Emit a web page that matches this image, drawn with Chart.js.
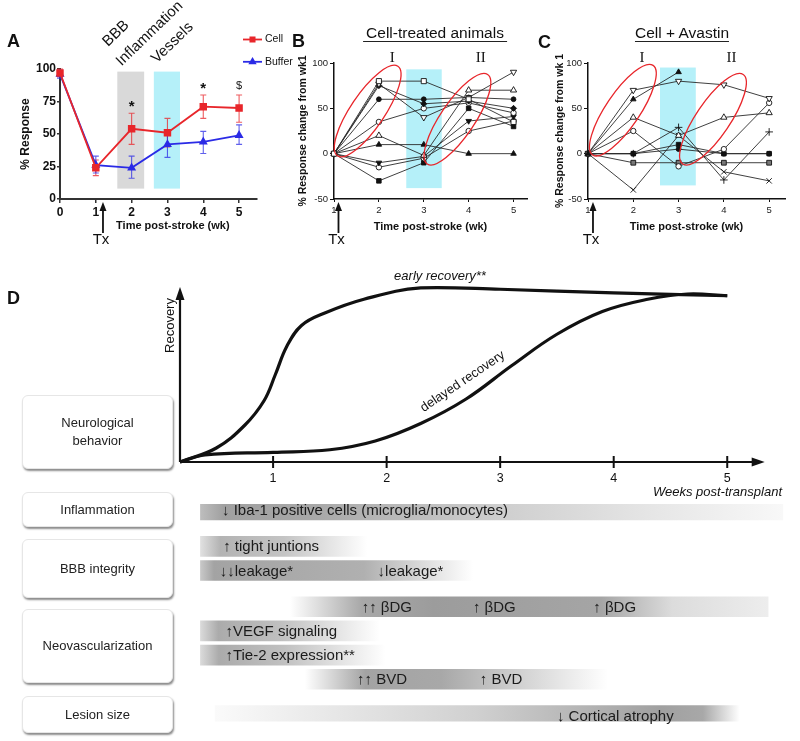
<!DOCTYPE html>
<html>
<head>
<meta charset="utf-8">
<script src="https://cdn.jsdelivr.net/npm/chart.js@4.4.1/dist/chart.umd.min.js"></script>
<style>
  body { margin: 0; background: #fff; font-family: "Liberation Sans", Arial, sans-serif; }
  #fig { position: relative; width: 800px; height: 741px; overflow: hidden; }
  #fig canvas { position: absolute; }
  .lbl { position: absolute; font-weight: bold; font-size: 18px; color: #111; z-index: 2; }
  .ttl { position: absolute; font-size: 15.5px; line-height: 17px; color: #111; z-index: 2;
         border-bottom: 1.5px solid #222; transform: translateX(-50%); white-space: nowrap; }
  .box { position: absolute; left: 22px; width: 149px; background: #fff; border: 1px solid #e6e6e6;
         border-radius: 6px; box-shadow: 1px 2px 2px rgba(0,0,0,0.45); display: flex; align-items: center;
         justify-content: center; text-align: center; font-size: 13px; line-height: 18px; color: #222; z-index: 2; }
</style>
</head>
<body>
<div id="fig">
  <canvas id="chartA" width="300" height="260" style="left:0;top:0"></canvas>
  <canvas id="chartB" width="272" height="260" style="left:262px;top:0"></canvas>
  <canvas id="chartC" width="270" height="260" style="left:530px;top:0"></canvas>
  <canvas id="chartD" width="800" height="250" style="left:0;top:250px"></canvas>
  <canvas id="chartE" width="800" height="251" style="left:0;top:490px"></canvas>

  <div class="lbl" style="left:7px;top:31px">A</div>
  <div class="lbl" style="left:292px;top:31px">B</div>
  <div class="lbl" style="left:538px;top:32px">C</div>
  <div class="lbl" style="left:7px;top:288px">D</div>
  <div class="ttl" style="left:435px;top:24px;padding:0 3px">Cell-treated animals</div>
  <div class="ttl" style="left:682px;top:24px">Cell + Avastin</div>

  <div class="box" style="top:395px;height:72px">Neurological<br>behavior</div>
  <div class="box" style="top:492px;height:33px">Inflammation</div>
  <div class="box" style="top:539px;height:57px">BBB integrity</div>
  <div class="box" style="top:609px;height:72px">Neovascularization</div>
  <div class="box" style="top:696px;height:35px">Lesion size</div>
</div>

<script>
// ---------- Panel A: % response, cell vs buffer ----------
const weeksA = [0, 1, 2, 3, 4, 5];
const cellMean = [97, 24, 54, 51, 71, 70];
const cellLow = [94, 18, 42, 40, 62, 59];
const cellHigh = [100, 30, 66, 62, 80, 80];
const bufferMean = [96, 26, 24, 42, 44, 49];
const bufferLow = [93, 20, 16, 32, 35, 42];
const bufferHigh = [99, 33, 33, 51, 52, 57];
const sigMarks = ['', '', '*', '', '*', '$'];
const phaseBands = [[1.6, 2.35], [2.62, 3.35]];
const bandSpan = [8, 98];
const phaseLabels = ['BBB', 'Inflammation', 'Vessels'];
const phaseAnchors = [[1.34, 117], [1.72, 102], [2.70, 104]];

// ---------- Panels B and C: change from wk1 per animal ----------
const weeksBC = [1, 2, 3, 4, 5];
const cellTreated = [
  [0, 80, 80, 60, 35],
  [0, 77, 40, 62, 90],
  [0, 75, 55, 58, 50],
  [0, 60, 60, 62, 60],
  [0, 35, 50, 56, 45],
  [0, 20, -2, 70, 70],
  [0, 10, 10, 0, 0],
  [0, -10, -3, 36, 41],
  [0, -15, -5, 25, 36],
  [0, -30, -10, 50, 30]
];
const cellAvastin = [
  [0, 60, 90, null, null],
  [0, 70, 80, 76, 61],
  [0, 40, 20, 40, 45],
  [0, 25, -14, 5, 56],
  [0, 0, 29, -29, 24],
  [0, -40, 20, -20, -30],
  [0, 0, 5, 0, 0],
  [0, 0, 10, 0, 0],
  [0, -10, -10, -10, -10]
];
const bandB = [2.61, 3.40], bandSpanB = [-38, 93];
const bandC = [2.59, 3.38], bandSpanC = [-35, 95];
const ringsB = [[1.75, 47], [3.75, 38]];
const ringsC = [[1.77, 48], [3.76, 38]];
const numeralsB = [[2.3, 'I'], [4.27, 'II']];
const numeralsC = [[2.19, 'I'], [4.17, 'II']];

// ---------- Panel D: recovery curves ----------
const earlyWeeks = [0.18, 0.50, 0.75, 0.92, 1.02, 1.12, 1.25, 1.45, 1.80, 2.30, 3.00, 4.00, 5.00];
const earlyRecovery = [0, 8, 21, 35, 50, 66, 78, 85, 93, 99.5, 98.7, 96.6, 95];
const delayedWeeks = [0.18, 0.40, 1.00, 1.50, 1.90, 2.30, 2.70, 3.10, 3.50, 3.90, 4.30, 4.65, 5.00];
const delayedRecovery = [0, 4, 5.5, 7, 12, 22, 36, 55, 73, 86, 93, 96, 95];
const weekTicks = [1, 2, 3, 4, 5];

// ---------- Panel D: timeline bars (weeks) ----------
const barStart = [0.36, 0.36, 0.36, 1.15, 0.36, 0.36, 1.28, 0.49];
const barEnd = [5.49, 1.83, 2.76, 5.36, 1.94, 1.99, 3.95, 5.11];
const barNotes = [
  [[0.55, '↓ Iba-1 positive cells (microglia/monocytes)']],
  [[0.56, '↑ tight juntions']],
  [[0.53, '↓↓leakage*'], [1.92, '↓leakage*']],
  [[1.78, '↑↑ βDG'], [2.76, '↑ βDG'], [3.82, '↑ βDG']],
  [[0.58, '↑VEGF signaling']],
  [[0.58, '↑Tie-2 expression**']],
  [[1.74, '↑↑ BVD'], [2.82, '↑ BVD']],
  [[3.5, '↓ Cortical atrophy']]
];

// layout / style
const FONT = '"Liberation Sans", Arial, sans-serif';
Chart.defaults.font.family = FONT;
Chart.defaults.color = '#111';
const RED = '#e8262b', BLUE = '#2b2be6', CYAN = '#b5f0f9';
const rowSlot = [0, 3, 5, 8, 10, 12, 14, 17];
const barShades = [
  [[0, '#bdbdbd'], [0.04, '#a0a0a0'], [0.2, '#a8a8a8'], [0.5, '#cdcdcd'], [0.8, '#e8e8e8'], [1, '#f8f8f8']],
  [[0, '#e0e0e0'], [0.12, '#b3b3b3'], [0.5, '#c4c4c4'], [1, '#ffffff']],
  [[0, '#c8c8c8'], [0.05, '#a3a3a3'], [0.6, '#b0b0b0'], [1, '#ffffff']],
  [[0, '#ffffff'], [0.15, '#a8a8a8'], [0.3, '#9c9c9c'], [0.65, '#a5a5a5'], [0.8, '#dcdcdc'], [1, '#ededed']],
  [[0, '#dadada'], [0.1, '#ababab'], [0.45, '#c0c0c0'], [1, '#ffffff']],
  [[0, '#dadada'], [0.1, '#ababab'], [0.45, '#c0c0c0'], [1, '#ffffff']],
  [[0, '#ffffff'], [0.2, '#a3a3a3'], [0.45, '#a8a8a8'], [1, '#ffffff']],
  [[0, '#fafafa'], [0.5, '#d0d0d0'], [0.85, '#a0a0a0'], [0.93, '#a8a8a8'], [1, '#ffffff']]
];
const MARKERS = {
  sqO: { style: 'rect', r: 3.6, fill: '#fff' },
  sqF: { style: 'rect', r: 3.2, fill: '#111' },
  sqX: { style: 'rect', r: 3.4, fill: '#777' },
  circO: { style: 'circle', r: 2.7, fill: '#fff' },
  circF: { style: 'circle', r: 2.4, fill: '#111' },
  triO: { style: 'triangle', r: 3.6, fill: '#fff' },
  triF: { style: 'triangle', r: 3.2, fill: '#111' },
  triDownO: { style: 'triangle', r: 3.6, fill: '#fff', rot: 180 },
  triDownF: { style: 'triangle', r: 3.2, fill: '#111', rot: 180 },
  diaF: { style: 'rectRot', r: 3, fill: '#111' },
  plus: { style: 'cross', r: 3.8, fill: '#111' },
  cross: { style: 'crossRot', r: 3.8, fill: '#111' }
};
const markersB = ['sqO', 'triDownO', 'diaF', 'circF', 'circO', 'triO', 'triF', 'triDownF', 'circO', 'sqF'];
const markersC = ['triF', 'triDownO', 'triO', 'circO', 'plus', 'cross', 'circF', 'sqF', 'sqX'];

function drawTx(chart, week) {
  const { ctx, chartArea, scales: { x } } = chart;
  const px = x.getPixelForValue(week);
  const tip = chartArea.bottom + 3;
  ctx.save();
  ctx.strokeStyle = '#111'; ctx.fillStyle = '#111'; ctx.lineWidth = 1.8;
  ctx.beginPath(); ctx.moveTo(px, tip + 7); ctx.lineTo(px, tip + 31); ctx.stroke();
  ctx.beginPath(); ctx.moveTo(px, tip); ctx.lineTo(px - 3.5, tip + 9); ctx.lineTo(px + 3.5, tip + 9); ctx.closePath(); ctx.fill();
  ctx.font = '15px ' + FONT; ctx.textAlign = 'center'; ctx.textBaseline = 'middle';
  ctx.fillText('Tx', px - 2, tip + 38);
  ctx.restore();
}

// ---------- Panel A ----------
const panelA = {
  id: 'panelA',
  beforeDatasetsDraw(chart) {
    const { ctx, scales: { x, y } } = chart;
    ctx.save();
    phaseBands.forEach(([a, b], k) => {
      ctx.fillStyle = k === 0 ? '#d9d9d9' : CYAN;
      const x0 = x.getPixelForValue(a), x1 = x.getPixelForValue(b);
      const y0 = y.getPixelForValue(bandSpan[1]), y1 = y.getPixelForValue(bandSpan[0]);
      ctx.fillRect(x0, y0, x1 - x0, y1 - y0);
    });
    chart.data.datasets.forEach(ds => {
      ctx.strokeStyle = ds.errColor; ctx.lineWidth = 1.1;
      weeksA.forEach((w, i) => {
        const px = x.getPixelForValue(w);
        const lo = y.getPixelForValue(ds.low[i]), hi = y.getPixelForValue(ds.high[i]);
        ctx.beginPath();
        ctx.moveTo(px, lo); ctx.lineTo(px, hi);
        ctx.moveTo(px - 3, lo); ctx.lineTo(px + 3, lo);
        ctx.moveTo(px - 3, hi); ctx.lineTo(px + 3, hi);
        ctx.stroke();
      });
    });
    ctx.restore();
  },
  afterDraw(chart) {
    const { ctx, chartArea, scales: { x, y } } = chart;
    ctx.save();
    ctx.fillStyle = '#111'; ctx.textAlign = 'center'; ctx.textBaseline = 'bottom';
    sigMarks.forEach((m, i) => {
      if (!m) return;
      ctx.font = (m === '*' ? 'bold 15px ' : '11px ') + FONT;
      ctx.fillText(m, x.getPixelForValue(weeksA[i]), y.getPixelForValue(cellHigh[i] + (m === '*' ? -1 : 3)));
    });
    // x axis title sits a little right of the plot centre
    ctx.font = 'bold 11px ' + FONT; ctx.textBaseline = 'middle';
    ctx.fillText('Time post-stroke (wk)', x.getPixelForValue(3.15), chartArea.bottom + 27);
    // rotated phase labels
    ctx.font = '15px ' + FONT; ctx.textAlign = 'left'; ctx.textBaseline = 'alphabetic';
    phaseLabels.forEach((t, i) => {
      ctx.save();
      ctx.translate(x.getPixelForValue(phaseAnchors[i][0]), y.getPixelForValue(phaseAnchors[i][1]));
      ctx.rotate(-44 * Math.PI / 180);
      ctx.fillText(t, 0, 0);
      ctx.restore();
    });
    // legend
    chart.data.datasets.forEach((ds, i) => {
      const ly = 39.5 + i * 22.3;
      ctx.strokeStyle = ds.borderColor; ctx.lineWidth = 1.8;
      ctx.beginPath(); ctx.moveTo(243, ly); ctx.lineTo(262, ly); ctx.stroke();
      ctx.fillStyle = ds.borderColor; ctx.strokeStyle = ds.borderColor;
      Chart.helpers.drawPoint(ctx, { pointStyle: ds.pointStyle, radius: 3, borderWidth: 1 }, 252.5, ly);
      ctx.fillStyle = '#111'; ctx.font = '10.5px ' + FONT; ctx.textBaseline = 'middle';
      ctx.fillText(ds.label, 265, ly);
    });
    ctx.restore();
    drawTx(chart, 1.2);
  }
};

new Chart(document.getElementById('chartA'), {
  type: 'line',
  data: {
    datasets: [
      { label: 'Cell', data: weeksA.map((w, i) => ({ x: w, y: cellMean[i] })), low: cellLow, high: cellHigh,
        borderColor: RED, backgroundColor: RED, errColor: 'rgba(232,38,43,0.75)', borderWidth: 1.8,
        pointStyle: 'rect', pointRadius: 4, clip: false },
      { label: 'Buffer', data: weeksA.map((w, i) => ({ x: w, y: bufferMean[i] })), low: bufferLow, high: bufferHigh,
        borderColor: BLUE, backgroundColor: BLUE, errColor: 'rgba(43,43,230,0.75)', borderWidth: 1.8,
        pointStyle: 'triangle', pointRadius: 3.4, clip: false }
    ]
  },
  options: {
    responsive: false, animation: false,
    layout: { padding: { left: 0, right: 43, top: 69, bottom: 20 } },
    plugins: { legend: { display: false }, tooltip: { enabled: false } },
    scales: {
      x: {
        type: 'linear', min: 0, max: 5.5,
        ticks: { stepSize: 1, includeBounds: false, padding: 2, font: { size: 12, weight: 'bold' }, color: '#111' },
        grid: { drawOnChartArea: false, tickLength: 4, color: '#333', lineWidth: 1.5 },
        border: { color: '#333', width: 2 },
        afterFit: s => { s.height = 41; }
      },
      y: {
        min: 0, max: 100,
        ticks: { stepSize: 25, padding: 1, font: { size: 12, weight: 'bold' }, color: '#111' },
        grid: { drawOnChartArea: false, tickLength: 3, color: '#333', lineWidth: 1.5 },
        border: { color: '#333', width: 2 },
        title: { display: true, text: '% Response', font: { size: 12, weight: 'bold' }, padding: { top: 18, bottom: 0 } },
        afterFit: s => { s.width = 60; }
      }
    }
  },
  plugins: [panelA]
});

// ---------- Panels B and C ----------
function spaghettiSets(rows, markers) {
  return rows.map((vals, i) => {
    const m = MARKERS[markers[i]];
    return {
      data: weeksBC.map((w, j) => ({ x: w, y: vals[j] })),
      borderColor: '#2a2a2a', borderWidth: 0.9, tension: 0, clip: false,
      pointStyle: m.style, pointRotation: m.rot || 0, pointRadius: m.r,
      pointBackgroundColor: m.fill, pointBorderColor: '#111', pointBorderWidth: 0.9
    };
  });
}

function spaghettiDecor(o) {
  return {
    id: 'decor',
    beforeDatasetsDraw(chart) {
      const { ctx, scales: { x, y } } = chart;
      ctx.save();
      ctx.fillStyle = CYAN;
      const x0 = x.getPixelForValue(o.band[0]), x1 = x.getPixelForValue(o.band[1]);
      const y0 = y.getPixelForValue(o.span[1]), y1 = y.getPixelForValue(o.span[0]);
      ctx.fillRect(x0, y0, x1 - x0, y1 - y0);
      ctx.restore();
    },
    afterDatasetsDraw(chart) {
      const { ctx, scales: { x, y } } = chart;
      ctx.save();
      ctx.strokeStyle = RED; ctx.lineWidth = 1.3;
      o.rings.forEach(([w, v]) => {
        ctx.beginPath();
        ctx.ellipse(x.getPixelForValue(w), y.getPixelForValue(v), 54, 17, -56 * Math.PI / 180, 0, Math.PI * 2);
        ctx.stroke();
      });
      ctx.fillStyle = '#111'; ctx.font = '15px "Liberation Serif", "DejaVu Serif", serif';
      ctx.textAlign = 'center'; ctx.textBaseline = 'middle';
      o.numerals.forEach(([w, t]) => ctx.fillText(t, x.getPixelForValue(w), y.getPixelForValue(105)));
      ctx.restore();
      drawTx(chart, o.tx);
    }
  };
}

function spaghettiChart(id, rows, markers, o) {
  return new Chart(document.getElementById(id), {
    type: 'line',
    data: { datasets: spaghettiSets(rows, markers) },
    options: {
      responsive: false, animation: false,
      layout: { padding: { left: 0, right: o.padRight, top: 63, bottom: 20 } },
      plugins: { legend: { display: false }, tooltip: { enabled: false } },
      scales: {
        x: {
          type: 'linear', min: 1, max: o.xMax,
          ticks: { stepSize: 1, includeBounds: false, padding: 3, font: { size: 9.5 }, color: '#222' },
          grid: { drawOnChartArea: false, tickLength: 3, color: '#111' },
          border: { color: '#111', width: 1.5 },
          title: { display: true, text: 'Time post-stroke (wk)', font: { size: 11, weight: 'bold' }, padding: { top: 0, bottom: 6 } },
          afterFit: s => { s.height = 41; }
        },
        y: {
          min: -50, max: 100,
          ticks: { stepSize: 50, padding: 2, font: { size: 9.5 }, color: '#222' },
          grid: { drawOnChartArea: false, tickLength: 4, color: '#111' },
          border: { color: '#111', width: 1.5 },
          title: { display: true, text: o.yTitle, font: { size: 10.5, weight: 'bold' }, padding: { top: o.titlePad, bottom: 0 } },
          afterFit: s => { s.width = o.yWidth; }
        }
      }
    },
    plugins: [spaghettiDecor(o)]
  });
}

spaghettiChart('chartB', cellTreated, markersB, {
  band: bandB, span: bandSpanB, rings: ringsB, numerals: numeralsB, tx: 1.1,
  xMax: 5.3, padRight: 7, yWidth: 72, titlePad: 34.7, yTitle: '% Response change from wk1'
});
spaghettiChart('chartC', cellAvastin, markersC, {
  band: bandC, span: bandSpanC, rings: ringsC, numerals: numeralsC, tx: 1.11,
  xMax: 5.35, padRight: 15, yWidth: 58, titlePad: 23.7, yTitle: '% Response change from wk 1'
});

// ---------- Panel D: curves ----------
const axisStart = 0.18, axisEnd = 5.33;
const dAxes = {
  id: 'dAxes',
  afterDatasetsDraw(chart) {
    const { ctx, chartArea: { top, bottom }, scales: { x, y } } = chart;
    const x0 = x.getPixelForValue(axisStart), x1 = x.getPixelForValue(axisEnd);
    ctx.save();
    ctx.strokeStyle = '#111'; ctx.fillStyle = '#111'; ctx.lineWidth = 2.2;
    ctx.beginPath(); ctx.moveTo(x0, bottom); ctx.lineTo(x1 - 8, bottom); ctx.moveTo(x0, bottom); ctx.lineTo(x0, top + 8); ctx.stroke();
    ctx.beginPath(); ctx.moveTo(x1, bottom); ctx.lineTo(x1 - 13, bottom - 4.5); ctx.lineTo(x1 - 13, bottom + 4.5); ctx.closePath(); ctx.fill();
    ctx.beginPath(); ctx.moveTo(x0, top); ctx.lineTo(x0 - 4.5, top + 13); ctx.lineTo(x0 + 4.5, top + 13); ctx.closePath(); ctx.fill();
    ctx.lineWidth = 2;
    ctx.font = '12.5px ' + FONT; ctx.textAlign = 'center'; ctx.textBaseline = 'middle';
    weekTicks.forEach(w => {
      const px = x.getPixelForValue(w);
      ctx.beginPath(); ctx.moveTo(px, bottom - 6); ctx.lineTo(px, bottom + 6); ctx.stroke();
      ctx.fillText(String(w), px, bottom + 17);
    });
    ctx.font = 'italic 13px ' + FONT; ctx.textAlign = 'right';
    ctx.fillText('Weeks post-transplant', 782, bottom + 30);
    ctx.textAlign = 'center';
    ctx.fillText('early recovery**', x.getPixelForValue(2.47), y.getPixelForValue(106));
    ctx.font = '13px ' + FONT;
    ctx.save();
    ctx.translate(x0 - 10, y.getPixelForValue(78));
    ctx.rotate(-Math.PI / 2);
    ctx.fillText('Recovery', 0, 0);
    ctx.restore();
    ctx.save();
    ctx.translate(x.getPixelForValue(2.67), y.getPixelForValue(46));
    ctx.rotate(-34 * Math.PI / 180);
    ctx.fillText('delayed recovery', 0, 0);
    ctx.restore();
    ctx.restore();
  }
};

new Chart(document.getElementById('chartD'), {
  type: 'line',
  data: {
    datasets: [
      { data: earlyWeeks.map((w, i) => ({ x: w, y: earlyRecovery[i] })), borderColor: '#111', borderWidth: 3.2,
        pointRadius: 0, tension: 0.4, clip: false },
      { data: delayedWeeks.map((w, i) => ({ x: w, y: delayedRecovery[i] })), borderColor: '#111', borderWidth: 3.2,
        pointRadius: 0, tension: 0.4, clip: false }
    ]
  },
  options: {
    responsive: false, animation: false,
    layout: { padding: { left: 180, right: 16, top: 37, bottom: 38 } },
    plugins: { legend: { display: false }, tooltip: { enabled: false } },
    scales: {
      x: { type: 'linear', display: false, min: axisStart, max: 5.5 },
      y: { display: false, min: 0, max: 100 }
    }
  },
  plugins: [dAxes]
});

// ---------- Panel D: timeline bars ----------
function barGradient(context) {
  const chart = context.chart;
  if (!chart.chartArea) return '#bbb';
  const i = context.dataIndex;
  const xs = chart.scales.x;
  const g = chart.ctx.createLinearGradient(xs.getPixelForValue(barStart[i]), 0, xs.getPixelForValue(barEnd[i]), 0);
  barShades[i].forEach(([o, c]) => g.addColorStop(o, c));
  return g;
}

const barText = {
  id: 'barText',
  afterDatasetsDraw(chart) {
    const { ctx } = chart;
    const xs = chart.scales.x;
    const meta = chart.getDatasetMeta(0);
    ctx.save();
    ctx.font = '15px ' + FONT; ctx.fillStyle = '#1b1b1b';
    ctx.textBaseline = 'middle'; ctx.textAlign = 'left';
    barNotes.forEach((notes, i) => {
      const yc = meta.data[i].y;
      notes.forEach(([w, t]) => ctx.fillText(t, xs.getPixelForValue(w), yc + 1));
    });
    ctx.restore();
  }
};

new Chart(document.getElementById('chartE'), {
  type: 'bar',
  data: {
    datasets: [{
      data: barStart.map((s, i) => ({ x: [s, barEnd[i]], y: rowSlot[i] })),
      backgroundColor: barGradient, borderWidth: 0, barThickness: 20
    }]
  },
  options: {
    indexAxis: 'y', responsive: false, animation: false,
    layout: { padding: { left: 180, right: 16, top: 14, bottom: 19.4 } },
    plugins: { legend: { display: false }, tooltip: { enabled: false } },
    scales: {
      x: { type: 'linear', display: false, min: axisStart, max: 5.5 },
      y: { type: 'linear', display: false, min: -0.5, max: 17.5, reverse: true, offset: false }
    }
  },
  plugins: [barText]
});
</script>
</body>
</html>
